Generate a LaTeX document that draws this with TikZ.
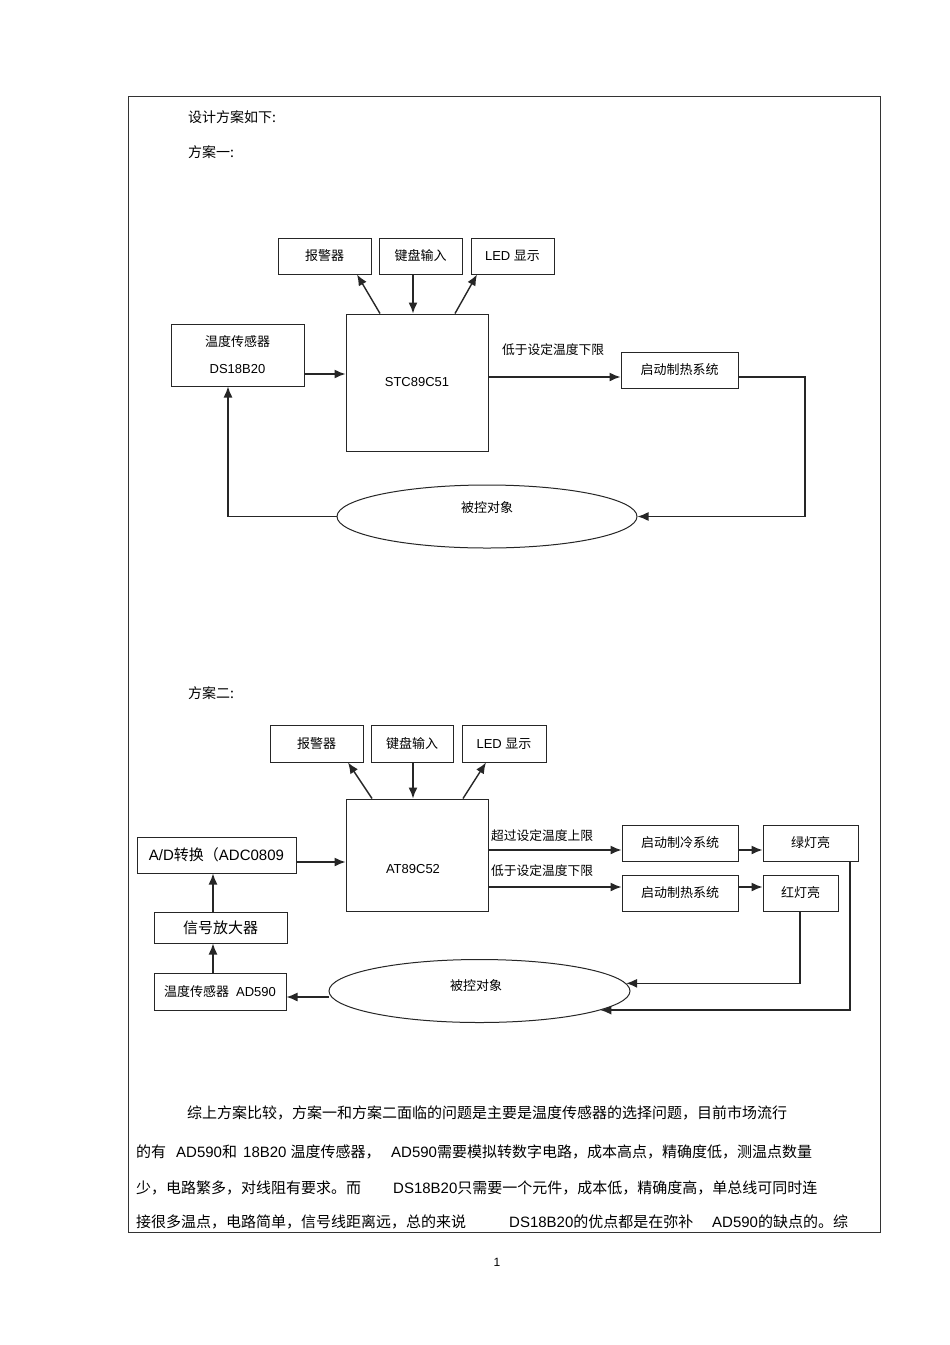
\documentclass[tikz,border=0pt]{standalone}
\usepackage{fontspec}
\setmainfont{Liberation Sans}
\newfontfamily\cjk{Noto Sans CJK SC}
\usetikzlibrary{arrows.meta,shapes.geometric}
\newcommand\zh[1]{{\cjk #1}}
\newcommand\fs[1]{\fontsize{#1}{#1}\selectfont}
\begin{document}
\begin{tikzpicture}[x=1pt,y=-1pt,
  box/.style={draw=black!85, line width=1pt, minimum height=36pt, inner sep=0pt, font=\fs{13}},
  oval/.style={draw=black!85, line width=1pt, ellipse, inner sep=0pt},
  arr/.style={draw=black!85, line width=1.4pt, -{Latex[length=11pt,width=9pt]}},
  txt/.style={inner sep=0pt, font=\fs{13}},
  lbl/.style={inner sep=0pt, font=\fs{12.75}},
  head/.style={inner sep=0pt, anchor=west, font=\fs{14}},
  para/.style={inner sep=0pt, anchor=west, font=\fs{15}},
]
\useasboundingbox (0,0) rectangle (950,1345);
\fill[white] (0,0) rectangle (950,1345);
\draw[black!80, line width=1pt] (128,96) rectangle (880,1232);

% headings
\node[head] (title) at (188,117) {\zh{设计方案如下:}};
\node[head] (s1) at (188,152) {\zh{方案一:}};
\node[head] (s2) at (188,693) {\zh{方案二:}};

% ---------- scheme 1 ----------
\node[box, minimum width=93pt] (alarm1) at (324.5,256) {\zh{报警器}};
\node[box, minimum width=83pt] (key1) at (420.5,256) {\zh{键盘输入}};
\node[box, minimum width=83pt] (led1) at (512.5,256) {LED \zh{显示}};
\node[box, minimum width=142pt, minimum height=137pt] (stc) at (417,382.5) {STC89C51};
\node[box, minimum width=133pt, minimum height=62pt, align=center] (ds) at (237.5,355) {\zh{温度传感器}\\[14pt]DS18B20};
\node[box, minimum width=117pt] (heat1) at (679.5,370) {\zh{启动制热系统}};
\node[lbl] (lbl1) at (553,350) {\zh{低于设定温度下限}};
\node[oval, minimum width=300pt, minimum height=63pt] (obj1) at (487,516.5) {};
\node[txt] (obj1t) at (487,508) {\zh{被控对象}};

\coordinate (h1) at (0,374);
\coordinate (h2) at (0,377);
\coordinate (t1) at (805,377);

\draw[arr] (ds.east |- h1) -- (stc.west |- h1);
\draw[arr] ([xshift=-37pt]stc.north) -- ([xshift=32.5pt]alarm1.south);
\draw[arr] ([xshift=-7.5pt]key1.south) -- ([xshift=-4pt]stc.north);
\draw[arr] ([xshift=38pt]stc.north) -- ([xshift=-35.5pt]led1.south);
\draw[arr] (stc.east |- h2) -- (heat1.west |- h2);
\draw[arr] (heat1.east |- h2) -- (t1) |- (obj1.east);
\draw[arr] (obj1.west) -| ([xshift=-9.5pt]ds.south);

% ---------- scheme 2 ----------
\node[box, minimum width=93pt, minimum height=37pt] (alarm2) at (316.5,743.5) {\zh{报警器}};
\node[box, minimum width=82pt, minimum height=37pt] (key2) at (412,743.5) {\zh{键盘输入}};
\node[box, minimum width=84pt, minimum height=37pt] (led2) at (504,743.5) {LED \zh{显示}};
\node[box, minimum width=142pt, minimum height=112pt] (mcu2) at (417,855) {};
\node[txt] (mcu2t) at (413,869) {AT89C52};
\node[box, minimum width=159pt] (ad) at (216.5,855) {\fs{15}A/D\zh{转换（}ADC0809};
\node[box, minimum width=133pt, minimum height=31pt] (amp) at (220.5,927.5) {\fs{15}\zh{信号放大器}};
\node[box, minimum width=132pt, minimum height=37pt] (sen) at (220,991.5) {\zh{温度传感器}\hspace{7pt}AD590};
\node[box, minimum width=116pt] (cool) at (680,843) {\zh{启动制冷系统}};
\node[box, minimum width=95pt] (green) at (810.5,843) {\zh{绿灯亮}};
\node[box, minimum width=116pt] (heat2) at (680,893) {\zh{启动制热系统}};
\node[box, minimum width=75pt] (red) at (800.5,893) {\zh{红灯亮}};
\node[oval, minimum width=301pt, minimum height=63pt] (obj2) at (479.5,991) {};
\node[txt] (obj2t) at (476,986) {\zh{被控对象}};
\node[lbl] (lbl2) at (542,836) {\zh{超过设定温度上限}};
\node[lbl] (lbl3) at (542,871) {\zh{低于设定温度下限}};

\coordinate (v1) at (0,862);
\coordinate (v2) at (0,850);
\coordinate (v3) at (0,887);
\coordinate (v4) at (0,997);

\draw[arr] ([xshift=-45pt]mcu2.north) -- ([xshift=31.5pt]alarm2.south);
\draw[arr] ([xshift=1pt]key2.south) -- ([xshift=-4pt]mcu2.north);
\draw[arr] ([xshift=46pt]mcu2.north) -- ([xshift=-18pt]led2.south);
\draw[arr] (ad.east |- v1) -- (mcu2.west |- v1);
\draw[arr] ([xshift=-7.5pt]amp.north) -- ([xshift=-3.5pt]ad.south);
\draw[arr] ([xshift=-7pt]sen.north) -- ([xshift=-7.5pt]amp.south);
\draw[arr] (obj2.west |- v4) -- (sen.east |- v4);
\draw[arr] (mcu2.east |- v2) -- (cool.west |- v2);
\draw[arr] (cool.east |- v2) -- (green.west |- v2);
\draw[arr] (mcu2.east |- v3) -- (heat2.west |- v3);
\draw[arr] (heat2.east |- v3) -- (red.west |- v3);
\draw[arr] ([xshift=-0.5pt]red.south) |- (obj2.3);
\draw[arr] ([xshift=39.5pt]green.south) |- (obj2.-9);

% ---------- paragraph ----------
\node[para] (p1) at (187,1113) {\zh{综上方案比较，方案一和方案二面临的问题是主要是温度传感器的选择问题，目前市场流行}};
\node[para] (p2a) at (136,1152) {\zh{的有}};
\node[para] (p2b) at (176,1152) {AD590\zh{和}};
\node[para] (p2c) at (243,1152) {18B20 \zh{温度传感器，}};
\node[para] (p2d) at (391,1152) {AD590\zh{需要模拟转数字电路，成本高点，精确度低，测温点数量}};
\node[para] (p3a) at (136,1188) {\zh{少，电路繁多，对线阻有要求。而}};
\node[para] (p3b) at (393,1188) {DS18B20\zh{只需要一个元件，成本低，精确度高，单总线可同时连}};
\node[para] (p4a) at (136,1222) {\zh{接很多温点，电路简单，信号线距离远，总的来说}};
\node[para] (p4b) at (509,1222) {DS18B20\zh{的优点都是在弥补}};
\node[para] (p4c) at (712,1222) {AD590\zh{的缺点的。综}};

\node[inner sep=0pt, font=\fs{12}] (pg) at (497,1262) {1};
\end{tikzpicture}
\end{document}
